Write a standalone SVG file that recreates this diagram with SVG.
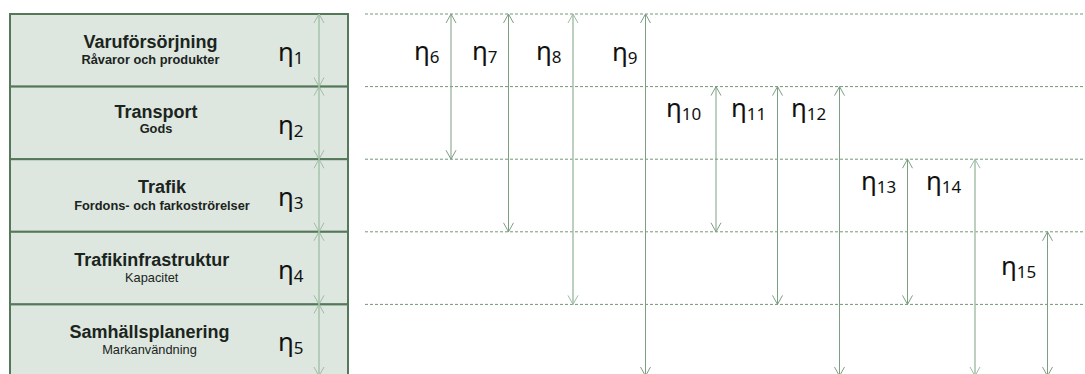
<svg xmlns="http://www.w3.org/2000/svg" width="1085" height="374" viewBox="0 0 1085 374">
<style>
.box{fill:#dde7df;stroke:#55785b;stroke-width:2}
.t{font-family:"Liberation Sans",Arial,sans-serif;font-size:18px;font-weight:bold;fill:#1b241d;text-anchor:middle}
.s{font-family:"Liberation Sans",Arial,sans-serif;font-size:12.8px;fill:#1b241d;text-anchor:middle}
.sb{font-weight:bold}
.eta{font-family:"Noto Sans","Open Sans",sans-serif;font-size:26px;fill:#111}
.sub{font-size:17px}
.dash{stroke:#73977a;stroke-width:1;stroke-dasharray:3 2;fill:none}
.ar{stroke:#7c9f81;stroke-width:1;fill:none;marker-start:url(#mD);marker-end:url(#mD)}
.arl{stroke:#aac5ae;stroke-width:1.6;fill:none;marker-start:url(#mL);marker-end:url(#mL)}
</style>
<defs>
<marker id="mD" markerUnits="userSpaceOnUse" markerWidth="12" markerHeight="12" refX="0" refY="0" viewBox="-10 -6 11 12" orient="auto-start-reverse" overflow="visible">
<path d="M-9,-5 L0,0 L-9,5" fill="none" stroke="#7c9f81" stroke-width="1"/>
</marker>
<marker id="mL" markerUnits="userSpaceOnUse" markerWidth="12" markerHeight="12" refX="0" refY="0" viewBox="-10 -6 11 12" orient="auto-start-reverse" overflow="visible">
<path d="M-9,-5 L0,0 L-9,5" fill="none" stroke="#9fbda4" stroke-width="1"/>
</marker>
</defs>

<g id="row1">
<rect class="box" x="10" y="14" width="338" height="72.6"/>
<text class="t" x="150.5" y="47.5">Varuförsörjning</text>
<text class="s sb" x="150.5" y="64.3">Råvaror och produkter</text>
<text class="eta" x="278" y="61">η<tspan class="sub" dy="3">1</tspan></text>
</g>
<g id="row2">
<rect class="box" x="10" y="86.6" width="338" height="72.6"/>
<text class="t" x="156" y="118.3">Transport</text>
<text class="s sb" x="156" y="133.3">Gods</text>
<text class="eta" x="278" y="133.5">η<tspan class="sub" dy="3">2</tspan></text>
</g>
<g id="row3">
<rect class="box" x="10" y="159.2" width="338" height="72.6"/>
<text class="t" x="162" y="192.7">Trafik</text>
<text class="s sb" x="162" y="210">Fordons- och farkoströrelser</text>
<text class="eta" x="278" y="206">η<tspan class="sub" dy="3">3</tspan></text>
</g>
<g id="row4">
<rect class="box" x="10" y="231.8" width="338" height="72.6"/>
<text class="t" x="151.7" y="266">Trafikinfrastruktur</text>
<text class="s" x="151.7" y="281.7">Kapacitet</text>
<text class="eta" x="278" y="278.5">η<tspan class="sub" dy="3">4</tspan></text>
</g>
<g id="row5">
<rect class="box" x="10" y="304.4" width="338" height="80"/>
<text class="t" x="149.5" y="338.3">Samhällsplanering</text>
<text class="s" x="149.5" y="354.3">Markanvändning</text>
<text class="eta" x="278" y="351">η<tspan class="sub" dy="3">5</tspan></text>
</g>

<g id="labels">
<text class="eta" x="414" y="60">η<tspan class="sub" dy="3">6</tspan></text>
<text class="eta" x="472" y="60">η<tspan class="sub" dy="3">7</tspan></text>
<text class="eta" x="536" y="60">η<tspan class="sub" dy="3">8</tspan></text>
<text class="eta" x="612" y="61">η<tspan class="sub" dy="3">9</tspan></text>
<text class="eta" x="666" y="117">η<tspan class="sub" dy="3">10</tspan></text>
<text class="eta" x="731" y="117">η<tspan class="sub" dy="3">11</tspan></text>
<text class="eta" x="791" y="117">η<tspan class="sub" dy="3">12</tspan></text>
<text class="eta" x="861" y="190">η<tspan class="sub" dy="3">13</tspan></text>
<text class="eta" x="926" y="190">η<tspan class="sub" dy="3">14</tspan></text>
<text class="eta" x="1001" y="275">η<tspan class="sub" dy="3">15</tspan></text>
</g>

<g id="connectors">
<line class="dash" x1="365" y1="14" x2="1085" y2="14"/>
<line class="dash" x1="365" y1="86.6" x2="1085" y2="86.6"/>
<line class="dash" x1="365" y1="159.2" x2="1085" y2="159.2"/>
<line class="dash" x1="365" y1="231.8" x2="1085" y2="231.8"/>
<line class="dash" x1="365" y1="304.4" x2="1085" y2="304.4"/>

<line class="arl" x1="319" y1="14" x2="319" y2="86.6"/>
<line class="arl" x1="319" y1="86.6" x2="319" y2="159.2"/>
<line class="arl" x1="319" y1="159.2" x2="319" y2="231.8"/>
<line class="arl" x1="319" y1="231.8" x2="319" y2="304.4"/>
<line class="arl" x1="319" y1="304.4" x2="319" y2="376"/>

<line class="ar" x1="451" y1="14" x2="451" y2="159.2"/>
<line class="ar" x1="508.5" y1="14" x2="508.5" y2="231.8"/>
<line class="arl" x1="573" y1="14" x2="573" y2="304.4"/>
<line class="ar" x1="645.5" y1="14" x2="645.5" y2="376"/>
<line class="ar" x1="716" y1="86.6" x2="716" y2="231.8"/>
<line class="ar" x1="777.5" y1="86.6" x2="777.5" y2="304.4"/>
<line class="ar" x1="839.5" y1="86.6" x2="839.5" y2="376"/>
<line class="ar" x1="907.5" y1="159.2" x2="907.5" y2="304.4"/>
<line class="arl" x1="975" y1="159.2" x2="975" y2="376"/>
<line class="ar" x1="1047.5" y1="231.8" x2="1047.5" y2="376"/>
</g>
</svg>
